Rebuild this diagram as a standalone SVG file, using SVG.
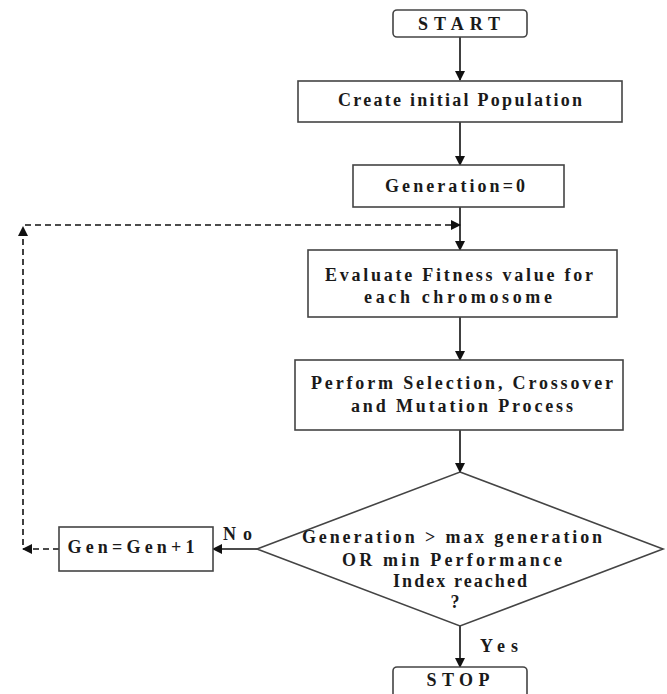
<svg xmlns="http://www.w3.org/2000/svg" width="667" height="694" viewBox="0 0 667 694">
<style>
.box{fill:#fff;stroke:#444;stroke-width:1.6}
.t{font-family:"Liberation Serif","Times New Roman",serif;font-weight:bold;font-size:18px;fill:#1a1a1a;text-anchor:middle}
.l{font-family:"Liberation Serif","Times New Roman",serif;font-weight:bold;font-size:18px;fill:#1a1a1a}
.c{stroke:#111;stroke-width:1.6;fill:none}
.d{stroke:#111;stroke-width:1.6;fill:none;stroke-dasharray:6 4}
</style>
<defs>
<marker id="ah" markerWidth="10" markerHeight="10" refX="9" refY="5" orient="auto" markerUnits="userSpaceOnUse">
<path d="M0,0 L10,5 L0,10 Z" fill="#111"/>
</marker>
</defs>
<rect width="667" height="694" fill="#fff"/>
<g id="connectors">
<line class="c" x1="460" y1="37" x2="460" y2="80" marker-end="url(#ah)"/>
<line class="c" x1="460" y1="122" x2="460" y2="165" marker-end="url(#ah)"/>
<line class="c" x1="460" y1="207" x2="460" y2="250" marker-end="url(#ah)"/>
<line class="c" x1="460" y1="317" x2="460" y2="360" marker-end="url(#ah)"/>
<line class="c" x1="460" y1="430" x2="460" y2="472" marker-end="url(#ah)"/>
<line class="c" x1="460" y1="626" x2="460" y2="667" marker-end="url(#ah)"/>
<line class="c" x1="257" y1="549" x2="213" y2="549" marker-end="url(#ah)"/>
<line class="d" x1="59" y1="549" x2="23" y2="549" marker-end="url(#ah)"/>
<line class="d" x1="23" y1="545" x2="23" y2="227" marker-end="url(#ah)"/>
<line class="d" x1="25" y1="225" x2="460" y2="225" marker-end="url(#ah)"/>
</g>
<g id="start">
<rect class="box" x="393" y="10" width="134" height="27" rx="4"/>
<text class="t" x="459" y="30" textLength="82" lengthAdjust="spacing">START</text>
</g>
<g id="create">
<rect class="box" x="298" y="81" width="324" height="41"/>
<text class="t" x="460" y="106" textLength="244" lengthAdjust="spacing">Create initial Population</text>
</g>
<g id="gen0">
<rect class="box" x="353" y="165" width="211" height="42"/>
<text class="t" x="455" y="192" textLength="140" lengthAdjust="spacing">Generation=0</text>
</g>
<g id="evaluate">
<rect class="box" x="308" y="250" width="309" height="67"/>
<text class="t" x="459" y="281" textLength="268" lengthAdjust="spacing">Evaluate Fitness value for</text>
<text class="t" x="458" y="303" textLength="188" lengthAdjust="spacing">each chromosome</text>
</g>
<g id="perform">
<rect class="box" x="295" y="360" width="328" height="70"/>
<text class="t" x="462" y="389" textLength="302" lengthAdjust="spacing">Perform Selection, Crossover</text>
<text class="t" x="462" y="412" textLength="222" lengthAdjust="spacing">and Mutation Process</text>
</g>
<g id="decision">
<polygon class="box" points="460,472 663,549 460,626 257,549"/>
<text class="t" x="452" y="543" textLength="300" lengthAdjust="spacing">Generation &gt; max generation</text>
<text class="t" x="452" y="566" textLength="220" lengthAdjust="spacing">OR min Performance</text>
<text class="t" x="460" y="587" textLength="134" lengthAdjust="spacing">Index reached</text>
<text class="t" x="455" y="608">?</text>
</g>
<g id="gen-inc">
<rect class="box" x="59" y="527" width="154" height="44"/>
<text class="t" x="131" y="553" textLength="127" lengthAdjust="spacing">Gen=Gen+1</text>
</g>
<g id="stop">
<rect class="box" x="393" y="667" width="134" height="34" rx="4"/>
<text class="t" x="458" y="686" textLength="63" lengthAdjust="spacing">STOP</text>
</g>
<g id="labels">
<text class="l" x="223" y="540" textLength="29" lengthAdjust="spacing">No</text>
<text class="l" x="480" y="652" textLength="38" lengthAdjust="spacing">Yes</text>
</g>
</svg>
